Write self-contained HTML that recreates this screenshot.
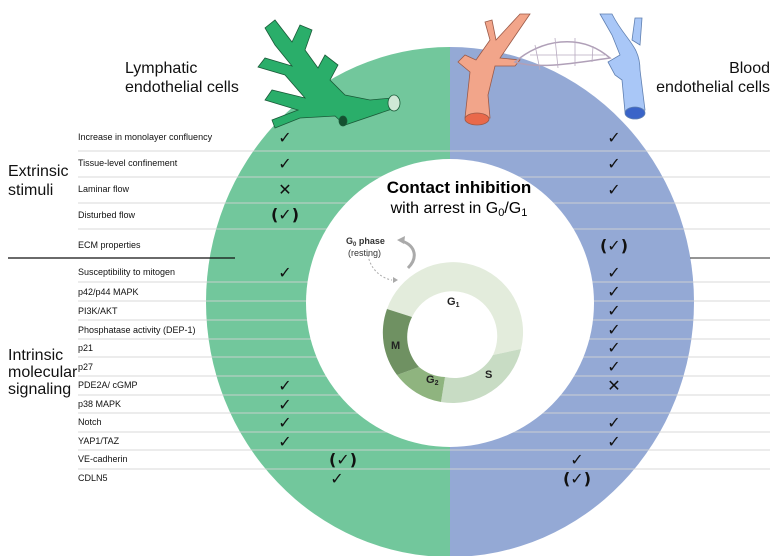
<!DOCTYPE html>
<html><head><meta charset="utf-8"><style>
body{margin:0;background:#fff;}
svg{display:block;font-family:"Liberation Sans",Arial,sans-serif;}
</style></head><body>
<svg width="782" height="556" viewBox="0 0 782 556" xmlns="http://www.w3.org/2000/svg">
<defs><clipPath id="cl"><rect x="0" y="0" width="450" height="556"/></clipPath><clipPath id="cr"><rect x="450" y="0" width="332" height="556"/></clipPath></defs>
<ellipse cx="450" cy="302" rx="244" ry="255" fill="#72c79c" clip-path="url(#cl)"/>
<ellipse cx="450" cy="302" rx="244" ry="255" fill="#94a9d5" clip-path="url(#cr)"/>
<!-- row lines -->
<g stroke="#d4d4d4" stroke-width="1.2" opacity="0.7">
<line x1="78" y1="151" x2="770" y2="151"/><line x1="78" y1="177" x2="770" y2="177"/>
<line x1="78" y1="203" x2="770" y2="203"/><line x1="78" y1="229" x2="770" y2="229"/>
<line x1="78" y1="282" x2="770" y2="282"/><line x1="78" y1="301" x2="770" y2="301"/>
<line x1="78" y1="320" x2="770" y2="320"/><line x1="78" y1="339" x2="770" y2="339"/>
<line x1="78" y1="357" x2="770" y2="357"/><line x1="78" y1="376" x2="770" y2="376"/>
<line x1="78" y1="395" x2="770" y2="395"/><line x1="78" y1="413" x2="770" y2="413"/>
<line x1="78" y1="432" x2="770" y2="432"/><line x1="78" y1="450" x2="770" y2="450"/>
<line x1="78" y1="469" x2="770" y2="469"/>
</g>
<line x1="8" y1="258" x2="235" y2="258" stroke="#111" stroke-width="1.3"/>
<line x1="690" y1="258" x2="770" y2="258" stroke="#555" stroke-width="1.2"/>
<circle cx="450" cy="303" r="144" fill="#fff"/>
<!-- cycle -->
<g transform="translate(453,333)">
<path d="M-66,-24 A70,70 0 0 1 68,16 L40,22 A44,44 0 0 0 -41,-16 Z" fill="#e3ecdc"/>
<path d="M68,16 A70,70 0 0 1 -12,69 L-8,44 A44,44 0 0 0 40,22 Z" fill="#c8dcc4"/>
<path d="M-12,69 A70,70 0 0 1 -56,42 L-34,34 A44,44 0 0 0 -8,44 Z" fill="#8fb47f"/>
<path d="M-56,42 A70,70 0 0 1 -66,-24 L-41,-16 A44,44 0 0 0 -34,34 Z" fill="#6f9162"/>
<text x="-6" y="-28" font-size="11" font-weight="bold" fill="#222">G<tspan font-size="7" dy="2">1</tspan></text>
<text x="32" y="45" font-size="11" font-weight="bold" fill="#222">S</text>
<text x="-27" y="50" font-size="11" font-weight="bold" fill="#222">G<tspan font-size="7" dy="2">2</tspan></text>
<text x="-62" y="16" font-size="11" font-weight="bold" fill="#222">M</text>
</g>
<path d="M408,268 C418,258 416,246 402,241" fill="none" stroke="#aaa" stroke-width="3"/>
<path d="M397,240 l8,-4 l-1,8 z" fill="#aaa"/>
<path d="M368,255 C370,268 380,278 392,280" fill="none" stroke="#aaa" stroke-width="1" stroke-dasharray="2,2"/>
<path d="M393,277 l5,3 l-5,3z" fill="#aaa"/>
<text x="346" y="244" font-size="9" font-weight="bold" fill="#333">G<tspan font-size="6" dy="2">0</tspan><tspan dy="-2"> phase</tspan></text>
<text x="348" y="256" font-size="9" fill="#333">(resting)</text>
<text x="459" y="193" font-size="17" font-weight="bold" text-anchor="middle" fill="#000">Contact inhibition</text>
<text x="459" y="213" font-size="16" text-anchor="middle" fill="#000">with arrest in G<tspan font-size="11" dy="3">0</tspan><tspan dy="-3">/G</tspan><tspan font-size="11" dy="3">1</tspan></text>
<!-- headings -->
<g font-size="16" fill="#111">
<text x="125" y="73">Lymphatic</text><text x="125" y="92">endothelial cells</text>
<text x="770" y="73" text-anchor="end">Blood</text><text x="770" y="92" text-anchor="end">endothelial cells</text>
<text x="8" y="176">Extrinsic</text><text x="8" y="195">stimuli</text>
<text x="8" y="360">Intrinsic</text><text x="8" y="377">molecular</text><text x="8" y="394">signaling</text>
</g>
<g font-size="9" fill="#111">
<text x="78" y="140">Increase in monolayer confluency</text>
<text x="78" y="166">Tissue-level confinement</text>
<text x="78" y="192">Laminar flow</text>
<text x="78" y="218">Disturbed flow</text>
<text x="78" y="248">ECM properties</text>
<text x="78" y="275">Susceptibility to mitogen</text>
<text x="78" y="295">p42/p44 MAPK</text>
<text x="78" y="314">PI3K/AKT</text>
<text x="78" y="333">Phosphatase activity (DEP-1)</text>
<text x="78" y="351">p21</text>
<text x="78" y="370">p27</text>
<text x="78" y="388">PDE2A/ cGMP</text>
<text x="78" y="407">p38 MAPK</text>
<text x="78" y="425">Notch</text>
<text x="78" y="444">YAP1/TAZ</text>
<text x="78" y="462">VE-cadherin</text>
<text x="78" y="481">CDLN5</text>
</g>
<g font-size="16" font-weight="bold" fill="#111" text-anchor="middle" font-family="DejaVu Sans,sans-serif">
<text x="285" y="143">✓</text><text x="285" y="169">✓</text><text x="285" y="195">✕</text><text x="285" y="220">(✓)</text>
<text x="285" y="278">✓</text><text x="285" y="391">✓</text><text x="285" y="410">✓</text><text x="285" y="428">✓</text><text x="285" y="447">✓</text>
<text x="343" y="465">(✓)</text><text x="337" y="484">✓</text>
<text x="614" y="143">✓</text><text x="614" y="169">✓</text><text x="614" y="195">✓</text><text x="614" y="251">(✓)</text>
<text x="614" y="278">✓</text><text x="614" y="297">✓</text><text x="614" y="316">✓</text><text x="614" y="335">✓</text><text x="614" y="353">✓</text><text x="614" y="372">✓</text><text x="614" y="391">✕</text>
<text x="614" y="428">✓</text><text x="614" y="447">✓</text><text x="577" y="465">✓</text><text x="577" y="484">(✓)</text>
</g>
<!-- lymphatic vessel -->
<g fill="#2aae6a" stroke="#1a5a38" stroke-width="0.8">
<path d="M395,108 L345,125 L335,116 L300,118 L275,128 L272,120 L298,110 L265,100 L272,90 L305,98 L285,75 L258,67 L265,58 L292,66 L275,45 L265,28 L275,20 L292,42 L300,25 L312,30 L305,50 L318,68 L325,55 L338,65 L330,80 L345,95 L370,100 L392,98 Z"/>
<ellipse cx="394" cy="103" rx="6" ry="8" fill="#cfe8d6"/>
<ellipse cx="343" cy="121" rx="4" ry="5" fill="#145030"/>
</g>
<!-- artery -->
<g fill="#f2a58a" stroke="#9b5a48" stroke-width="0.8">
<path d="M465,118 L470,72 L458,62 L465,55 L476,60 L490,40 L485,22 L492,20 L496,40 L520,14 L530,14 L500,58 L520,60 L515,66 L495,66 L488,95 L490,118 Z"/>
<ellipse cx="477" cy="119" rx="12" ry="6" fill="#e9694a"/>
</g>
<path d="M515,62 C540,40 580,32 610,58 C580,62 540,70 515,62 Z" fill="none" stroke="#b0a0b8" stroke-width="1.5"/>
<g stroke="#b8aac0" stroke-width="0.8" fill="none"><path d="M535,45 L540,70 M555,38 L558,68 M575,38 L575,66 M593,46 L592,62 M530,55 L605,55"/></g>
<!-- vein -->
<g fill="#a9c7f7" stroke="#5f7fb0" stroke-width="0.8">
<path d="M600,14 L612,14 C625,40 640,45 640,70 L645,110 L625,112 L622,80 L615,75 L608,62 L620,55 L612,35 Z"/>
<path d="M632,40 L635,18 L642,18 L640,45 Z"/>
<ellipse cx="635" cy="113" rx="10" ry="6" fill="#3a64c8"/>
</g>
</svg>
</body></html>
